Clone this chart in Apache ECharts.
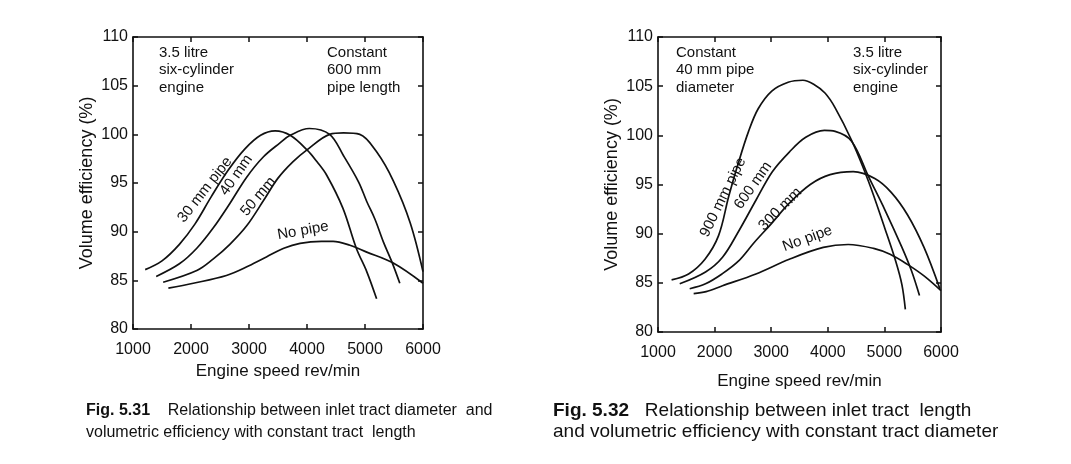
<!DOCTYPE html>
<html><head><meta charset="utf-8">
<script src="https://cdn.jsdelivr.net/npm/echarts@6/dist/echarts.min.js"></script>
<style>html,body{margin:0;padding:0;background:#fff}#c{width:1071px;height:464px}</style>
</head><body><div id="c"></div>
<script>
// ---- Fig. 5.31 : constant 600 mm pipe length, varying diameter ----
const rpm30 = [1210,1500,1800,2070,2350,2640,2930,3200,3450,3710,4000,4170,4340,4620,4850,5030,5200];
const ve30  = [86.1,87.0,88.7,90.8,93.6,96.3,98.5,99.9,100.35,99.9,98.4,97.2,95.8,92.4,88.3,85.9,83.1];
const rpm40 = [1400,1800,2100,2385,2670,2960,3250,3530,3710,4040,4390,4630,4890,5030,5170,5320,5470,5600];
const ve40  = [85.4,86.7,88.3,90.4,92.9,95.6,97.7,99.1,99.9,100.6,100.0,97.8,95.1,93.1,91.3,88.9,86.8,84.7];
const rpm50 = [1520,2100,2385,2670,2960,3250,3500,3760,4000,4390,4630,4910,5200,5490,5780,6000];
const ve50  = [84.8,86.0,87.2,88.7,90.6,93.2,95.5,97.2,98.4,100.0,100.15,100.0,98.2,95.2,90.9,85.9];
const rpmNoA = [1610,2040,2610,3000,3300,3600,3880,4250,4450,4740,5030,5480,6000];
const veNoA  = [84.2,84.7,85.5,86.5,87.4,88.3,88.8,89.0,89.0,88.6,87.9,86.8,84.7];

// ---- Fig. 5.32 : constant 40 mm pipe diameter, varying length ----
const rpm900 = [1240,1540,1830,2070,2250,2420,2600,2770,3010,3300,3560,3750,3950,4130,4420,4720,5010,5200,5310,5370];
const ve900  = [85.3,85.9,87.4,89.8,93.8,97.2,100.4,102.7,104.5,105.4,105.6,105.2,104.3,102.8,99.5,95.3,90.5,87.2,84.8,82.3];
const rpm600 = [1384,1840,2140,2430,2730,3020,3320,3610,3940,4130,4420,4720,5010,5310,5480,5620];
const ve600  = [84.9,86.1,87.6,90.3,93.4,96.3,98.3,99.8,100.5,100.4,99.4,95.8,92.4,88.6,86.2,83.7];
const rpm300 = [1560,1840,2130,2420,2700,3000,3320,3690,4040,4450,4830,5120,5410,5700,5980];
const ve300  = [84.4,84.9,85.9,87.2,89.1,91.0,93.1,95.0,96.0,96.3,95.6,94.2,91.9,88.6,84.4];
const rpmNoB = [1630,1850,2140,2730,3320,3920,4360,4810,5100,5400,5700,6000];
const veNoB  = [83.9,84.1,84.7,85.9,87.4,88.6,88.9,88.5,87.9,86.9,85.7,84.2];

const xTicks = [1000,2000,3000,4000,5000,6000];
const yTicks = [80,85,90,95,100,105,110];

const FONT = '"Liberation Sans", Arial, sans-serif';
const INK = '#111';
const pairs = (xs, ys) => xs.map((x, i) => [x, ys[i]]);

function lbl(text, x, y, rot) {
  return {
    symbol: 'circle', symbolSize: 0, silent: true,
    data: [{ coord: [x, y], label: { show: true, formatter: text, rotate: rot, position: 'inside',
      color: INK, fontFamily: FONT, fontSize: 15 } }]
  };
}
function curve(xi, yi, xs, ys, text, lx, ly, rot) {
  return {
    type: 'line', xAxisIndex: xi, yAxisIndex: yi, data: pairs(xs, ys),
    smooth: 0.35, showSymbol: false, silent: true,
    lineStyle: { color: INK, width: 1.7 },
    markPoint: lbl(text, lx, ly, rot)
  };
}
function xAx(gi, pos, gap, margin) {
  const main = pos === 'bottom';
  return {
    type: 'value', gridIndex: gi, position: pos, min: 1000, max: 6000, interval: 1000,
    axisLine: { lineStyle: { color: INK, width: 1.6 } },
    axisTick: { inside: true, length: 5, lineStyle: { color: INK, width: 1.5 } },
    splitLine: { show: false },
    axisLabel: { show: main, color: INK, fontFamily: FONT, fontSize: 16, margin: margin,
      formatter: v => xTicks.includes(v) ? String(v) : '' },
    name: main ? 'Engine speed rev/min' : '', nameLocation: 'middle', nameGap: gap,
    nameTextStyle: { color: INK, fontFamily: FONT, fontSize: 17 }
  };
}
function yAx(gi, pos) {
  const main = pos === 'left';
  return {
    type: 'value', gridIndex: gi, position: pos, min: 80, max: 110, interval: 5,
    axisLine: { lineStyle: { color: INK, width: 1.6 } },
    axisTick: { inside: true, length: 5, lineStyle: { color: INK, width: 1.5 } },
    splitLine: { show: false },
    axisLabel: { show: main, color: INK, fontFamily: FONT, fontSize: 16, margin: 5,
      formatter: v => yTicks.includes(v) ? String(v) : '' },
    name: main ? 'Volume efficiency (%)' : '', nameLocation: 'middle', nameGap: 37, nameRotate: 90,
    nameTextStyle: { color: INK, fontFamily: FONT, fontSize: 18 }
  };
}
function note(lines, left, top) {
  return { type: 'text', left: left, top: top, silent: true,
    style: { text: lines.join('\n'), fill: INK, font: '15px ' + FONT, lineHeight: 17.5 } };
}
function caption(fig, l1, l2, left, top, size, gap) {
  return { type: 'text', left: left, top: top, silent: true,
    style: { text: '{b|' + fig + '}' + gap + l1 + '\n' + l2, fill: INK, font: size + 'px ' + FONT,
      lineHeight: 21.5, rich: { b: { font: 'bold ' + size + 'px ' + FONT, fill: INK } } } };
}

const chart = echarts.init(document.getElementById('c'));
chart.setOption({
  backgroundColor: '#fff',
  animation: false,
  grid: [
    { left: 133, top: 37, width: 290, height: 292 },
    { left: 658, top: 37, width: 283, height: 295 }
  ],
  xAxis: [xAx(0, 'bottom', 30, 13), xAx(0, 'top', 0, 8), xAx(1, 'bottom', 41, 13), xAx(1, 'top', 0, 8)],
  yAxis: [yAx(0, 'left'), yAx(0, 'right'), yAx(1, 'left'), yAx(1, 'right')],
  series: [
    curve(0, 0, rpm30, ve30, '30 mm pipe', 2240, 94.3, 52),
    curve(0, 0, rpm40, ve40, '40 mm', 2780, 95.8, 55),
    curve(0, 0, rpm50, ve50, '50 mm', 3160, 93.6, 50),
    curve(0, 0, rpmNoA, veNoA, 'No pipe', 3930, 90.1, 10),
    curve(2, 2, rpm900, ve900, '900 mm pipe', 2150, 93.7, 64),
    curve(2, 2, rpm600, ve600, '600 mm', 2680, 94.9, 55),
    curve(2, 2, rpm300, ve300, '300 mm', 3160, 92.5, 45),
    curve(2, 2, rpmNoB, veNoB, 'No pipe', 3640, 89.5, 20)
  ],
  graphic: [
    note(['3.5 litre', 'six-cylinder', 'engine'], 159, 44),
    note(['Constant', '600 mm', 'pipe length'], 327, 44),
    note(['Constant', '40 mm pipe', 'diameter'], 676, 44),
    note(['3.5 litre', 'six-cylinder', 'engine'], 853, 44),
    caption('Fig. 5.31', 'Relationship between inlet tract diameter  and',
            'volumetric efficiency with constant tract  length', 86, 400, 16, '    '),
    caption('Fig. 5.32', 'Relationship between inlet tract  length',
            'and volumetric efficiency with constant tract diameter', 553, 400, 19, '   ')
  ]
});
</script></body></html>
